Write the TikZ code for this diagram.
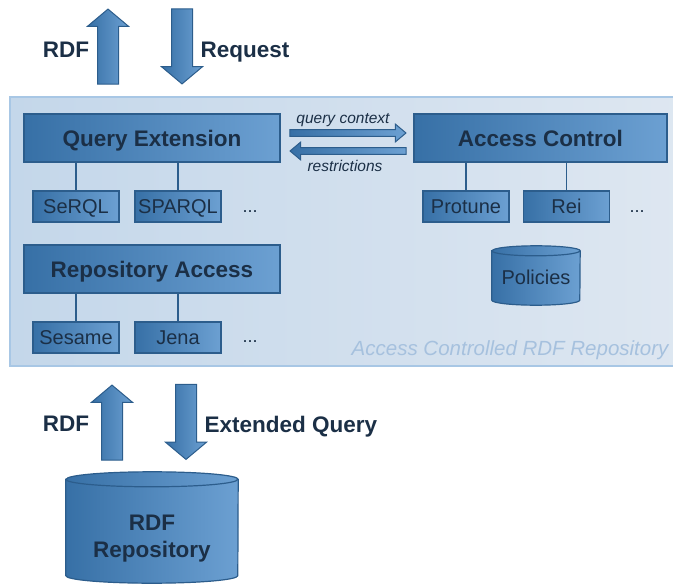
\documentclass[tikz,border=0pt]{standalone}
\usepackage{fontspec}
\setmainfont{Liberation Sans}
\usetikzlibrary{shapes.arrows,calc}
\definecolor{boxdark}{HTML}{3770A6}
\definecolor{boxlight}{HTML}{6CA0D2}
\definecolor{boxline}{HTML}{2C5D8C}
\definecolor{txt}{HTML}{1B2F46}
\definecolor{paneldark}{HTML}{C4D7EA}
\definecolor{panellight}{HTML}{DEE7F1}
\definecolor{panelline}{HTML}{A8C7E5}
\definecolor{paneltxt}{HTML}{A6C1DE}
\tikzset{
  box/.style={draw=boxline, line width=1.2pt, left color=boxdark, right color=boxlight,
    inner sep=0pt, text depth=0pt, text=txt, font=\bfseries\fontsize{22.5}{24}\selectfont},
  smallbox/.style={box, minimum width=86, minimum height=31, font=\fontsize{20}{22}\selectfont},
  bigbox/.style={box, minimum width=256, minimum height=48},
  dbarea/.style={inner sep=0pt},
  dbbody/.style={draw=boxline, line width=1.2pt, left color=boxdark, right color=boxlight},
  dbtext/.style={text=txt, align=center, font=\bfseries\fontsize{22.5}{27}\selectfont},
  bigarrow/.style={single arrow, draw=boxline, line width=1pt, left color=boxdark, right color=boxlight,
    inner sep=10pt, minimum width=40, minimum height=75, single arrow head extend=10,
    single arrow tip angle=100},
  thinarrow/.style={bigarrow, inner sep=2.8pt, minimum width=17, minimum height=116,
    single arrow head extend=5.5, single arrow tip angle=80},
  lbl/.style={text=txt, text depth=0pt, font=\bfseries\fontsize{22.5}{24}\selectfont},
  note/.style={text=txt, font=\itshape\fontsize{15.5}{17}\selectfont},
  dots/.style={text=txt, font=\fontsize{18}{20}\selectfont},
  link/.style={draw=boxline, line width=1.5pt}
}
% cylinder drawn round an empty node: #1 node, #2 x radius, #3 y radius
\newcommand\dbdraw[3]{
  \path[dbbody] ($(#1.north west)+(0,#3)$) -- ($(#1.south west)+(0,-#3)$)
    arc[start angle=180, end angle=360, x radius=#2pt, y radius=#3pt]
    -- ($(#1.north east)+(0,#3)$)
    arc[start angle=0, end angle=180, x radius=#2pt, y radius=#3pt] -- cycle;
  \draw[boxline, line width=1.2pt] ($(#1.north west)+(0,#3)$)
    arc[start angle=180, end angle=360, x radius=#2pt, y radius=#3pt];
}
\begin{document}
\begin{tikzpicture}[x=1pt,y=-1pt]
  \useasboundingbox (0,0) rectangle (673,586);
  \clip (0,0) rectangle (673,586);
  % container
  \node[draw=panelline, line width=1.5pt, left color=paneldark, right color=panellight,
    minimum width=680, minimum height=269, inner sep=0pt] (panel) at (350,231.5) {};
  \node[text=paneltxt, font=\itshape\fontsize{20.5}{22}\selectfont, anchor=east] (paneltitle) at (672,350)
    {Access Controlled RDF Repository};
  % top arrows
  \node[bigarrow, shape border rotate=90] (rdfout) at (108,51) {};
  \node[bigarrow, shape border rotate=270] (request) at (182,42) {};
  \node[lbl] (rdfoutlbl) at (66,50) {RDF};
  \node[lbl] (requestlbl) at (245,50) {Request};
  % main components
  \node[bigbox] (qext) at (152,138) {Query Extension};
  \node[bigbox, minimum width=253] (actrl) at (540.5,138) {Access Control};
  \node[bigbox] (racc) at (152,269) {Repository Access};
  \def \Boxes{
    serql/76/206.5/SeRQL,
    sparql/178/206.5/SPARQL,
    protune/466/206.5/Protune,
    rei/566.5/206.5/Rei,
    sesame/76/337.5/Sesame,
    jena/178/337.5/Jena}
  \foreach \id / \x / \y / \txt in \Boxes{
    \node[smallbox] (\id) at (\x, \y) {\txt};
  }
  \node[dots] (qdots) at (250,212) {...};
  \node[dots] (adots) at (637,212) {...};
  \node[dots] (rdots) at (250,342) {...};
  \path[link] (serql.north) -- (serql.north |- qext.south);
  \path[link] (sparql.north) -- (sparql.north |- qext.south);
  \path[link] (protune.north) -- (protune.north |- actrl.south);
  \path[link] (rei.north) -- (rei.north |- actrl.south);
  \path[link] (sesame.north) -- (sesame.north |- racc.south);
  \path[link] (jena.north) -- (jena.north |- racc.south);
  % between query extension and access control
  \node[thinarrow] (qctx) at (346,133) {};
  \node[thinarrow, shape border rotate=180] (restr) at (350,151) {};
  \node[note] (qctxlbl) at (343,120) {query context};
  \node[note] (restrlbl) at (345,166) {restrictions};
  \node[dbarea, minimum width=88, minimum height=59] (policies) at (536,275.5) {};
  \dbdraw{policies}{44}{5}
  \node[dbtext, font=\fontsize{20}{22}\selectfont] (policiestxt) at (536,277) {Policies};
  % bottom arrows
  \node[bigarrow, shape border rotate=90] (rdfin) at (112,427) {};
  \node[bigarrow, shape border rotate=270] (extq) at (186,417.5) {};
  \node[lbl] (rdfinlbl) at (66,424) {RDF};
  \node[lbl] (extqlbl) at (291,424) {Extended Query};
  \node[dbarea, minimum width=172, minimum height=111] (repo) at (152,527.5) {};
  \dbdraw{repo}{86}{7.5}
  \node[dbtext] (repotxt) at (152,539) {RDF\\Repository};
\end{tikzpicture}
\end{document}
